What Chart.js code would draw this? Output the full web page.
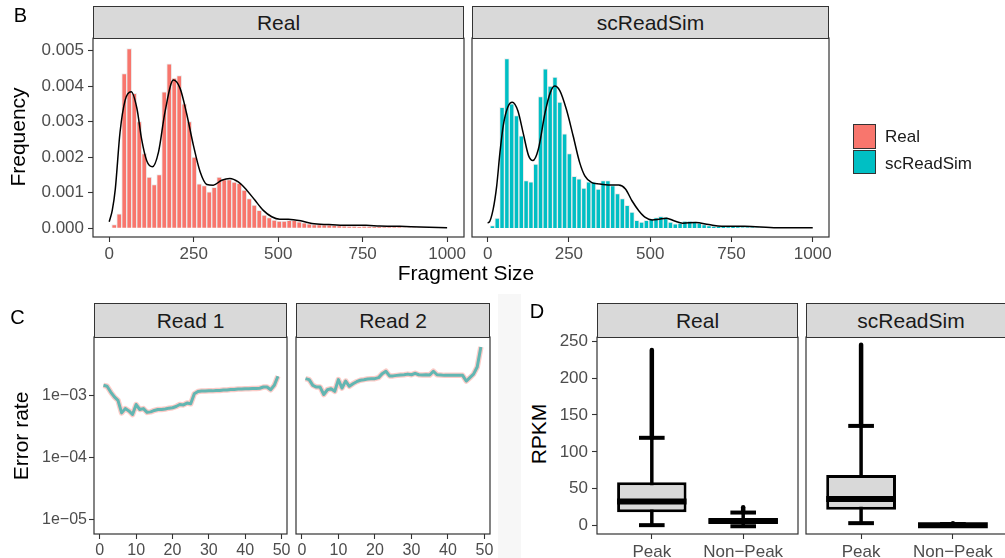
<!DOCTYPE html>
<html>
<head>
<meta charset="utf-8">
<script src="https://cdn.jsdelivr.net/npm/chart.js@4.4.1/dist/chart.umd.min.js"></script>
<style>
  html, body { margin: 0; padding: 0; background: #fff; }
  body { width: 1005px; height: 558px; position: relative; overflow: hidden;
         font-family: 'Liberation Sans', Arial, Helvetica, sans-serif; }
  canvas { position: absolute; }
  .strip { position: absolute; box-sizing: border-box; background: #d9d9d9; border: 1px solid #333;
           color: #1a1a1a; font-size: 21px; display: flex; align-items: center; justify-content: center; }
  .lbl { position: absolute; transform: translate(-50%, -50%); white-space: nowrap; line-height: 1; color: #000; }
  .rot { transform: translate(-50%, -50%) rotate(-90deg); }
  .key { position: absolute; box-sizing: border-box; border: 1.5px solid #333; width: 23px; }
  .band { position: absolute; left: 498px; top: 294px; width: 23px; height: 264px; background: #f7f7f7; }
</style>
</head>
<body>
<div class="band"></div>
<script>
// ---------- Panel B : fragment size distribution ----------
const binWidth = 14.8;   // histogram bin width (bp), first bin centred at one bin width
const realFreq = [0.0001, 0.0004, 0.00435, 0.00506, 0.0038, 0.0030, 0.0021, 0.00144, 0.00123, 0.00151,
  0.00384, 0.00463, 0.00423, 0.0043, 0.0035, 0.0030, 0.0020, 0.00125, 0.0012, 0.00102,
  0.00115, 0.00144, 0.00137, 0.00137, 0.0013, 0.00126, 0.00107, 0.00083, 0.00065, 0.0005,
  0.00037, 0.0003, 0.00023, 0.0002, 0.0002, 0.00022, 0.00022, 0.00018, 0.00015, 0.00012,
  0.0001, 0.0001, 0.00009, 0.00009, 0.00008, 0.00007, 0.00006, 0.00005, 0.00005, 0.00004,
  0.00005, 0.00004, 0.00003, 0.00003, 0.00002, 0.00002, 0.00002, 0.00002, 0.00001, 0.00001,
  0.00001, 0.00001, 0.00001, 0.00001, 0.00001, 0.00001, 0.00001];
const simFreq = [0.00007, 0.00028, 0.0034, 0.00477, 0.0035, 0.00317, 0.0026, 0.00134, 0.0013, 0.0018,
  0.0037, 0.00448, 0.0040, 0.00425, 0.00355, 0.00265, 0.0021, 0.00146, 0.00139, 0.00113,
  0.0013, 0.0013, 0.0011, 0.00134, 0.00134, 0.0012, 0.00097, 0.00083, 0.00064, 0.00045,
  0.00022, 0.00017, 0.00022, 0.00026, 0.0003, 0.00033, 0.00031, 0.00017, 0.00012, 0.00014,
  0.0002, 0.0002, 0.00018, 0.00014, 0.0001, 0.00007, 0.00006, 0.00005, 0.00004, 0.00003,
  0.00004, 0.00003, 0.00002, 0.00002, 0.00002, 0.00001, 0.00001, 0.00001, 0.00001, 0.00001,
  0.00001, 0.00001, 0.00001, 0.00001, 0.00001, 0.00001, 0.00001];

const realDensX = [0, 9, 18, 32, 47, 65, 82, 96, 111, 128, 146, 165, 190, 210, 229, 249, 269, 289, 308,
  333, 357, 382, 407, 431, 456, 481, 505, 530, 570, 600, 650, 700, 760, 800, 860, 920, 1000];
const realDensY = [0.00018, 0.0005, 0.0011, 0.0027, 0.0036, 0.00384, 0.00337, 0.0025, 0.0019, 0.00173,
  0.00215, 0.00327, 0.00417, 0.00393, 0.00323, 0.00234, 0.00159, 0.00123, 0.00121, 0.00135, 0.0014,
  0.0013, 0.00107, 0.00079, 0.0005, 0.00032, 0.00025, 0.00025, 0.0002, 0.00013, 0.0001, 0.00008,
  0.00008, 0.00006, 0.00005, 0.00003, 0.00001];
const simDensX = [0, 4, 17, 28, 38, 48, 62, 76, 93, 110, 126, 139, 156, 177, 193, 206, 222, 242, 263, 283,
  299, 319, 345, 377, 403, 424, 444, 465, 485, 506, 527, 550, 575, 600, 640, 680, 720, 790, 890, 1000];
const simDensY = [0.00015, 0.00016, 0.00053, 0.00119, 0.00213, 0.00288, 0.0034, 0.00354, 0.0033, 0.00265,
  0.00204, 0.0019, 0.00222, 0.00326, 0.00382, 0.004, 0.00387, 0.00335, 0.0026, 0.00185, 0.00147,
  0.00129, 0.00124, 0.00121, 0.00121, 0.0011, 0.00077, 0.00049, 0.0003, 0.00023, 0.00025, 0.00028,
  0.0002, 0.00014, 0.00016, 0.0001, 0.00005, 0.00005, 0.00001, 0.00001];

const fragTicks = [0, 250, 500, 750, 1000];
const fragTickLabels = ['0', '250', '500', '750', '1000'];
const freqTicks = [0, 0.001, 0.002, 0.003, 0.004, 0.005];
const freqTickLabels = ['0.000', '0.001', '0.002', '0.003', '0.004', '0.005'];

// ---------- Panel C : error rate per cycle ----------
const cycles = [1, 2, 3, 4, 5, 6, 7, 8, 9, 10, 11, 12, 13, 14, 15, 16, 17, 18, 19, 20, 21, 22, 23, 24, 25,
  26, 27, 28, 29, 30, 31, 32, 33, 34, 35, 36, 37, 38, 39, 40, 41, 42, 43, 44, 45, 46, 47, 48, 49];
// real and simulated curves overlap almost exactly, both are drawn from these values
const read1Error = [1.45e-3, 1.4e-3, 1.13e-3, 0.94e-3, 0.83e-3, 0.52e-3, 0.61e-3, 0.56e-3, 0.49e-3, 0.71e-3,
  0.59e-3, 0.61e-3, 0.53e-3, 0.54e-3, 0.57e-3, 0.59e-3, 0.59e-3, 0.6e-3, 0.62e-3, 0.63e-3,
  0.66e-3, 0.71e-3, 0.70e-3, 0.75e-3, 0.73e-3, 1.06e-3, 1.15e-3, 1.17e-3, 1.17e-3, 1.18e-3,
  1.18e-3, 1.2e-3, 1.2e-3, 1.22e-3, 1.22e-3, 1.24e-3, 1.24e-3, 1.26e-3, 1.26e-3, 1.28e-3,
  1.28e-3, 1.29e-3, 1.29e-3, 1.3e-3, 1.36e-3, 1.36e-3, 1.23e-3, 1.45e-3, 2.03e-3];
const read2Error = [1.86e-3, 1.79e-3, 1.45e-3, 1.36e-3, 1.36e-3, 1.03e-3, 1.23e-3, 1.28e-3, 1.16e-3, 1.79e-3,
  1.31e-3, 1.7e-3, 1.4e-3, 1.54e-3, 1.66e-3, 1.75e-3, 1.79e-3, 1.84e-3, 1.86e-3, 1.86e-3,
  1.93e-3, 2.24e-3, 2.45e-3, 2.06e-3, 2.06e-3, 2.1e-3, 2.13e-3, 2.15e-3, 2.2e-3, 2.15e-3,
  2.27e-3, 2.15e-3, 2.13e-3, 2.15e-3, 2.13e-3, 2.45e-3, 2.15e-3, 2.13e-3, 2.1e-3, 2.1e-3,
  2.1e-3, 2.1e-3, 2.1e-3, 2.1e-3, 1.7e-3, 1.93e-3, 2.2e-3, 2.87e-3, 6.05e-3];
const cycleTicks = [0, 10, 20, 30, 40, 50];
const cycleTickLabels = ['0', '10', '20', '30', '40', '50'];
const errTicks = [1e-5, 1e-4, 1e-3];
const errTickLabels = ['1e\u221205', '1e\u221204', '1e\u221203'];

// ---------- Panel D : RPKM boxplots ----------
const boxGroups = ['Peak', 'Non\u2212Peak'];
const boxPos = [1, 2];
const realLowCap = [0.5, -1];
const realQ1 = [18, 2.5];
const realMedian = [32.5, 6.3];
const realQ3 = [58.6, 10];
const realHighCap = [119, 17.6];
const realOutMax = [238, 24.8];
const simLowCap = [3.2, 0];
const simQ1 = [21.2, 0.2];
const simMedian = [36, 0.5];
const simQ3 = [68.5, 1];
const simHighCap = [135, 2];
const simOutMax = [245, 3];
const rpkmTicks = [0, 50, 100, 150, 200, 250];
const rpkmTickLabels = ['0', '50', '100', '150', '200', '250'];

Chart.defaults.font.family = "'Liberation Sans', Arial, Helvetica, sans-serif";
Chart.defaults.plugins.legend.display = false;
Chart.defaults.plugins.tooltip.enabled = false;

// frame around every facet panel
Chart.register({
  id: 'panelBorder',
  afterDraw(chart) {
    const a = chart.chartArea, ctx = chart.ctx;
    ctx.save();
    ctx.strokeStyle = '#333';
    ctx.lineWidth = 1.2;
    ctx.strokeRect(a.left, a.top, a.right - a.left, a.bottom - a.top);
    ctx.restore();
  }
});

function makeCanvas(left, top, w, h) {
  const c = document.createElement('canvas');
  c.width = w; c.height = h;
  c.style.left = left + 'px'; c.style.top = top + 'px';
  document.body.appendChild(c);
  return c;
}

function axis(o) {
  const shown = o.display !== false;
  const a = {
    type: o.type || 'linear',
    display: shown,
    min: o.min, max: o.max,
    offset: false,
    grid: { display: true, drawOnChartArea: false, drawTicks: true, tickLength: 5,
            tickColor: '#333', tickWidth: 1.1, offset: false },
    border: { display: false },
    ticks: { color: '#4d4d4d', font: { size: o.size }, padding: o.pad, autoSkip: false,
             maxRotation: 0, minRotation: 0, callback: (v, i) => o.labels[i] },
    afterBuildTicks: s => { s.ticks = o.vals.map(v => ({ value: v })); }
  };
  // shared y axis: only the left facet keeps its labels and width
  if (o.width) a.afterFit = s => { s.width = shown ? o.width : 0; };
  if (o.height) a.afterFit = s => { s.height = o.height; };
  return a;
}

function baseOptions(padding, scales) {
  return { responsive: false, animation: false, events: [], layout: { padding }, scales };
}

// ---- B ----
function histChart(canvas, freq, dx, dy, color, showY, padLeft) {
  return new Chart(canvas, {
    type: 'bar',
    data: {
      datasets: [
        { type: 'line', data: dx.map((x, i) => ({ x, y: dy[i] })), borderColor: '#000', borderWidth: 1.5,
          pointRadius: 0, cubicInterpolationMode: 'monotone', order: 0 },
        { type: 'bar', data: freq.map((y, i) => ({ x: (i + 1) * binWidth, y })), backgroundColor: color,
          borderColor: '#ececec', borderWidth: 1, barPercentage: 1, categoryPercentage: 1, order: 1 }
      ]
    },
    options: baseOptions({ top: 14, right: 8, left: padLeft, bottom: 0 }, {
      x: axis({ min: -48, max: 1050, vals: fragTicks, labels: fragTickLabels, size: 17, pad: 2, height: 28 }),
      y: axis({ min: -0.00025, max: 0.00535, vals: freqTicks, labels: freqTickLabels, size: 17, pad: 4,
                width: 73, display: showY })
    })
  });
}
histChart(makeCanvas(20, 24, 452, 241), realFreq, realDensX, realDensY, '#F8766D', true, 0);
histChart(makeCanvas(466, 24, 371, 241), simFreq, simDensX, simDensY, '#00BFC4', false, 6);

// ---- C ----
function errorChart(canvas, values, showY, padLeft) {
  const pts = cycles.map((x, i) => ({ x, y: values[i] }));
  return new Chart(canvas, {
    type: 'line',
    data: {
      datasets: [
        { data: pts, borderColor: 'rgba(248,118,109,0.38)', borderWidth: 5.5, pointRadius: 0,
          borderJoinStyle: 'round', order: 1 },
        { data: pts, borderColor: '#62b6b2', borderWidth: 3, pointRadius: 0,
          borderJoinStyle: 'round', order: 0 }
      ]
    },
    options: baseOptions({ top: 14, right: 8, left: padLeft, bottom: 0 }, {
      x: axis({ min: -1.6, max: 51.5, vals: cycleTicks, labels: cycleTickLabels, size: 16, pad: 2, height: 26 }),
      y: axis({ type: 'logarithmic', min: 5.75e-6, max: 8.75e-3, vals: errTicks, labels: errTickLabels,
                size: 16, pad: 2, width: 74, display: showY })
    })
  });
}
errorChart(makeCanvas(20, 323, 275, 237), read1Error, true, 0);
errorChart(makeCanvas(290, 323, 208, 237), read2Error, false, 6);

// ---- D ----
function boxPlugin(lowCap, highCap, median, outMax) {
  return {
    id: 'boxWhiskers',
    beforeDatasetsDraw(chart) {
      const ctx = chart.ctx, xs = chart.scales.x, ys = chart.scales.y;
      ctx.save();
      ctx.strokeStyle = '#000';
      boxPos.forEach((p, i) => {
        const x = xs.getPixelForValue(p);
        const half = xs.getPixelForValue(p + 0.14) - x;
        const seg = (x1, y1, x2, y2) => { ctx.beginPath(); ctx.moveTo(x1, y1); ctx.lineTo(x2, y2); ctx.stroke(); };
        // outlying points, dense enough to read as a line
        ctx.lineCap = 'round'; ctx.lineWidth = 4.5;
        seg(x, ys.getPixelForValue(highCap[i]), x, ys.getPixelForValue(outMax[i]));
        ctx.lineCap = 'butt'; ctx.lineWidth = 3.5;
        seg(x, ys.getPixelForValue(lowCap[i]), x, ys.getPixelForValue(highCap[i]));
        ctx.lineWidth = 4;
        seg(x - half, ys.getPixelForValue(highCap[i]), x + half, ys.getPixelForValue(highCap[i]));
        seg(x - half, ys.getPixelForValue(lowCap[i]), x + half, ys.getPixelForValue(lowCap[i]));
      });
      ctx.restore();
    },
    afterDatasetsDraw(chart) {
      const ctx = chart.ctx, ys = chart.scales.y;
      const bars = chart.getDatasetMeta(0).data;
      ctx.save();
      ctx.strokeStyle = '#000';
      ctx.lineWidth = 6;
      bars.forEach((el, i) => {
        const y = ys.getPixelForValue(median[i]);
        ctx.beginPath();
        ctx.moveTo(el.x - el.width / 2, y);
        ctx.lineTo(el.x + el.width / 2, y);
        ctx.stroke();
      });
      ctx.restore();
    }
  };
}
function boxChart(canvas, q1, q3, lowCap, highCap, median, outMax, showY, padLeft) {
  return new Chart(canvas, {
    type: 'bar',
    data: {
      datasets: [{
        data: boxPos.map((x, i) => ({ x, y: [q1[i], q3[i]] })),
        backgroundColor: '#d9d9d9', borderColor: '#000', borderWidth: 3, borderSkipped: false,
        barPercentage: 0.76, categoryPercentage: 1
      }]
    },
    options: baseOptions({ top: 14, right: 8, left: padLeft, bottom: 0 }, {
      x: axis({ min: 0.4, max: 2.6, vals: boxPos, labels: boxGroups, size: 17, pad: 3, height: 26 }),
      y: axis({ min: -11.5, max: 255.5, vals: rpkmTicks, labels: rpkmTickLabels, size: 17, pad: 4,
                width: 47, display: showY })
    }),
    plugins: [boxPlugin(lowCap, highCap, median, outMax)]
  });
}
boxChart(makeCanvas(550, 323, 256, 237), realQ1, realQ3, realLowCap, realHighCap, realMedian, realOutMax, true, 0);
boxChart(makeCanvas(800, 323, 216, 237), simQ1, simQ3, simLowCap, simHighCap, simMedian, simOutMax, false, 6);

// ---------- strips, titles, legend ----------
function addDiv(cls, html, css) {
  const d = document.createElement('div');
  d.className = cls;
  d.innerHTML = html;
  Object.assign(d.style, css);
  document.body.appendChild(d);
}
addDiv('strip', 'Real', { left: '93px', top: '6px', width: '371px', height: '33px' });
addDiv('strip', 'scReadSim', { left: '472px', top: '6px', width: '357px', height: '33px' });
addDiv('strip', 'Read 1', { left: '94px', top: '303px', width: '193px', height: '35px' });
addDiv('strip', 'Read 2', { left: '296px', top: '303px', width: '194px', height: '35px' });
addDiv('strip', 'Real', { left: '597px', top: '303px', width: '201px', height: '35px' });
addDiv('strip', 'scReadSim', { left: '806px', top: '303px', width: '210px', height: '35px' });

addDiv('lbl', 'B', { left: '20.5px', top: '15px', fontSize: '20px' });
addDiv('lbl rot', 'Frequency', { left: '17px', top: '137px', fontSize: '21px' });
addDiv('lbl', 'Fragment Size', { left: '466px', top: '272px', fontSize: '21px' });
addDiv('lbl', 'C', { left: '17.5px', top: '316.5px', fontSize: '20px' });
addDiv('lbl rot', 'Error rate', { left: '19.5px', top: '436px', fontSize: '21px' });
addDiv('lbl', 'D', { left: '537px', top: '311px', fontSize: '20px' });
addDiv('lbl rot', 'RPKM', { left: '537.5px', top: '434px', fontSize: '21px' });

addDiv('key', '', { left: '853px', top: '124px', height: '25px', background: '#F8766D' });
addDiv('key', '', { left: '853px', top: '150px', height: '24px', background: '#00BFC4' });
addDiv('lbl', 'Real', { left: '885px', top: '136px', fontSize: '17px', transform: 'translate(0,-50%)', color: '#1a1a1a' });
addDiv('lbl', 'scReadSim', { left: '885px', top: '162.5px', fontSize: '17px', transform: 'translate(0,-50%)', color: '#1a1a1a' });
</script>
</body>
</html>
